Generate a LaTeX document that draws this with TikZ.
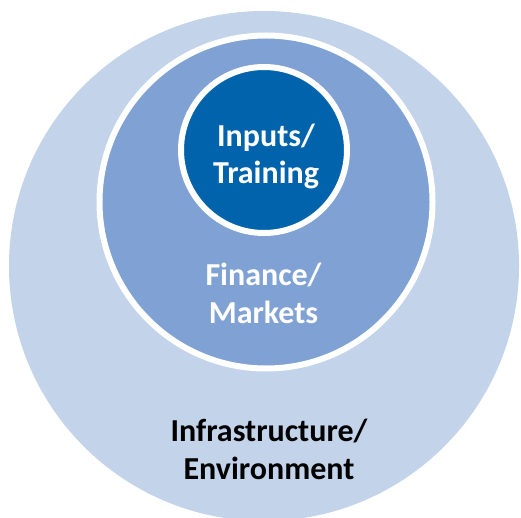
\documentclass[tikz,border=0pt]{standalone}
\usepackage{fontspec}
\setmainfont{Carlito}
\definecolor{outerc}{RGB}{194,211,234}
\definecolor{midc}{RGB}{127,161,211}
\definecolor{innerc}{RGB}{0,99,172}
\begin{document}
\begin{tikzpicture}[x=1pt,y=1pt,
  lbl/.style={anchor=base,align=center,font=\bfseries\fontsize{32}{37.5}\selectfont,inner sep=0pt}]
\useasboundingbox[fill=white] (0,0) rectangle (521,517);
\fill[outerc] (264,251) circle[radius=255];
\filldraw[fill=midc,draw=white,line width=6] (266,315) circle[radius=166.5];
\filldraw[fill=innerc,draw=white,line width=6] (264,367) circle[radius=83];
\node[lbl,text=white] (inner) at (266,333) {Inputs/\\Training};
\node[lbl,text=white] (mid) at (263.5,194) {Finance/\\Markets};
\node[lbl,text=black] (outer) at (269,38) {Infrastructure/\\Environment};
\end{tikzpicture}
\end{document}
